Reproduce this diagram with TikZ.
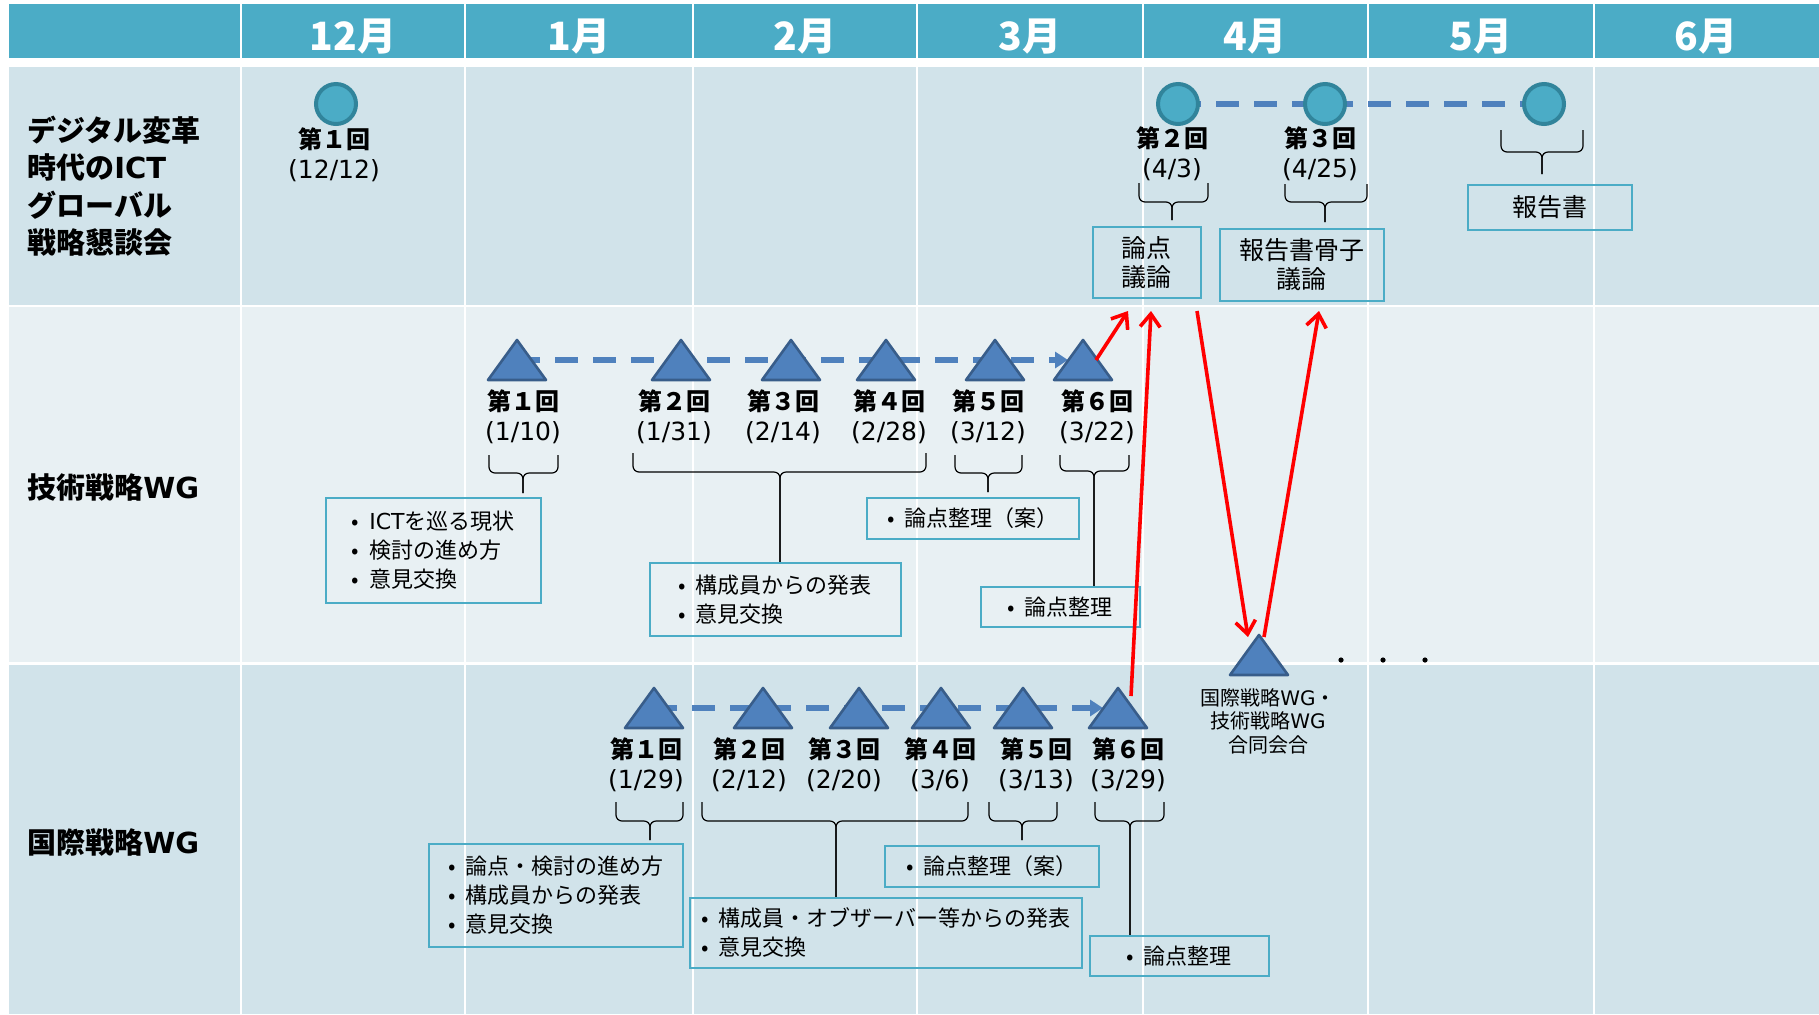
\documentclass[tikz,border=0pt]{standalone}
\usepackage{fontspec}
\setmainfont{Noto Sans CJK JP}
\newfontfamily\datefont{DejaVu Sans}
\newfontfamily\latfont{DejaVu Sans}
\usetikzlibrary{arrows.meta,calc}
\definecolor{hdr}{HTML}{4BACC6}
\definecolor{rowA}{HTML}{D1E3EA}
\definecolor{rowB}{HTML}{E8F0F3}
\definecolor{circB}{HTML}{31849B}
\definecolor{triF}{HTML}{4F81BD}
\definecolor{triB}{HTML}{385D8A}
\definecolor{dashc}{HTML}{4F81BD}
\newcommand\mktri[3]{\coordinate (#1) at (#2,#3);
  \draw[trishape] (#2,#3-20) -- (#2+29,#3+20) -- (#2-29,#3+20) -- cycle;}
\newcommand\brc[6]{\draw[brk] (#1,#3) -- (#1,#4) -- (#5,#4) -- (#5,#6);
  \draw[brk] (#2,#3) -- (#2,#4) -- (#5,#4) -- (#5,#6);}
\newcommand\dt[1]{{\datefont\fontsize{12.5}{15}\selectfont #1}}
\newcommand\lat[1]{{\latfont #1}}
\newcommand\bl{•\hspace{0.45em}}
\begin{document}
\begin{tikzpicture}[x=0.5pt,y=-0.5pt,
  month/.style={font=\fontsize{19.5}{21}\selectfont\bfseries, text=white, inner sep=0},
  rowlabel/.style={font=\fontsize{14.5}{18.7}\selectfont\bfseries, align=left, anchor=west, inner sep=0},
  evlabel/.style={font=\fontsize{12}{15}\selectfont, align=center, inner sep=0},
  meet/.style={circle, draw=circB, fill=hdr, line width=2pt, minimum size=20pt, inner sep=0},
  trishape/.style={draw=triB, fill=triF, line width=1.3pt, line join=round},
  seq/.style={draw=dashc, line width=3.4pt, dash pattern=on 11.5pt off 7.5pt},
  seqarr/.style={seq, -{Triangle[length=6.5pt,width=8pt]}},
  brk/.style={draw=black, line width=0.6pt, rounded corners=3pt},
  box/.style={draw=hdr, line width=0.8pt, align=left, inner xsep=3pt, inner ysep=0pt, font=\fontsize{11}{14.5}\selectfont, anchor=north west},
  cbox/.style={box, align=center, font=\fontsize{12.5}{14.5}\selectfont},
  redarr/.style={draw=red, line width=1.8pt, -{Straight Barb[length=6.5pt,width=10pt]}},
  joint/.style={font=\fontsize{10}{11.8}\selectfont, align=center, inner sep=0},
  dotn/.style={circle, fill=black, minimum size=2.6pt, inner sep=0}
]
\useasboundingbox (0,0) rectangle (1819,1014);
% background
\fill[white] (0,0) rectangle (1819,1014);
\fill[hdr] (9,4) rectangle (1819,58);
\fill[rowA] (9,67) rectangle (1819,305);
\fill[rowB] (9,307) rectangle (1819,662);
\fill[rowA] (9,665) rectangle (1819,1014);
\foreach \x in {241,465,693,917,1143,1368,1594} \draw[white, line width=1pt] (\x,4) -- (\x,1014);
% months
\node[month] (m12) at (353,37) {12月};
\node[month] (m1) at (579,37) {1月};
\node[month] (m2) at (805,37) {2月};
\node[month] (m3) at (1030,37) {3月};
\node[month] (m4) at (1255,37) {4月};
\node[month] (m5) at (1481,37) {5月};
\node[month] (m6) at (1706,37) {6月};
% row labels
\node[rowlabel] (L1) at (27,186) {デジタル変革\\時代の\lat{ICT}\\グローバル\\戦略懇談会};
\node[rowlabel] (L2) at (27,487) {技術戦略\lat{WG}};
\node[rowlabel] (L3) at (27,842) {国際戦略\lat{WG}};
% row 1
\node[meet] (C1) at (336,104) {};
\draw[seq] (1178,104) coordinate (c2p) -- (1544,104) coordinate (c4p);
\node[meet] (C2) at (c2p) {};
\node[meet] (C3) at (1325,104) {};
\node[meet] (C4) at (c4p) {};
\node[evlabel] (k1) at (334,155) {\textbf{第１回}\\\dt{(12/12)}};
\node[evlabel] (k2) at (1172,154) {\textbf{第２回}\\\dt{(4/3)}};
\node[evlabel] (k3) at (1320,154) {\textbf{第３回}\\\dt{(4/25)}};
\brc{1139}{1208}{183}{202}{1172}{220}
\brc{1285}{1367}{184}{202}{1325}{222}
\brc{1501}{1583}{130}{152}{1542}{174}
\node[cbox, minimum width=54pt, minimum height=35.5pt] (B1) at (1092,226) {論点\\議論};
\node[cbox, minimum width=82pt, minimum height=36pt] (B2) at (1219,228) {報告書骨子\\議論};
\node[cbox, minimum width=82pt, minimum height=22.5pt] (B3) at (1467,184) {報告書};
% row 2
\coordinate (T1) at (517,360);
\coordinate (T6) at (1083,360);
\draw[seqarr] (T1) -- ($(T6)+(-15,0)$);
\mktri{T1}{517}{360}
\mktri{T2}{681}{360}
\mktri{T3}{791}{360}
\mktri{T4}{886}{360}
\mktri{T5}{995}{360}
\mktri{T6}{1083}{360}
\node[evlabel] (a1) at (523,417) {\textbf{第１回}\\\dt{(1/10)}};
\node[evlabel] (a2) at (674,417) {\textbf{第２回}\\\dt{(1/31)}};
\node[evlabel] (a3) at (783,417) {\textbf{第３回}\\\dt{(2/14)}};
\node[evlabel] (a4) at (889,417) {\textbf{第４回}\\\dt{(2/28)}};
\node[evlabel] (a5) at (988,417) {\textbf{第５回}\\\dt{(3/12)}};
\node[evlabel] (a6) at (1097,417) {\textbf{第６回}\\\dt{(3/22)}};
\brc{489}{558}{455}{473}{523}{493}
\brc{633}{926}{453}{472}{780}{562}
\brc{955}{1022}{455}{473}{988}{492}
\brc{1060}{1129}{455}{471}{1094}{586}
\node[box, minimum width=107.5pt, minimum height=52.5pt] (B4) at (325,497) {\bl\lat{ICT}を巡る現状\\\bl 検討の進め方\\\bl 意見交換};
\node[box, minimum width=125.5pt, minimum height=36.5pt] (B5) at (649,562) {\bl 構成員からの発表\\\bl 意見交換};
\node[box, minimum width=106pt, minimum height=20.5pt] (B6) at (866,497) {\bl 論点整理（案）};
\node[box, minimum width=79.5pt, minimum height=20pt] (B7) at (980,586) {\bl 論点整理};
% row 3
\coordinate (U1) at (654,708);
\coordinate (U6) at (1118,708);
\draw[seqarr] (U1) -- ($(U6)+(-15,0)$);
\mktri{U1}{654}{708}
\mktri{U2}{763}{708}
\mktri{U3}{859}{708}
\mktri{U4}{941}{708}
\mktri{U5}{1023}{708}
\mktri{U6}{1118}{708}
\node[evlabel] (b1) at (646,765) {\textbf{第１回}\\\dt{(1/29)}};
\node[evlabel] (b2) at (749,765) {\textbf{第２回}\\\dt{(2/12)}};
\node[evlabel] (b3) at (844,765) {\textbf{第３回}\\\dt{(2/20)}};
\node[evlabel] (b4) at (940,765) {\textbf{第４回}\\\dt{(3/6)}};
\node[evlabel] (b5) at (1036,765) {\textbf{第５回}\\\dt{(3/13)}};
\node[evlabel] (b6) at (1128,765) {\textbf{第６回}\\\dt{(3/29)}};
\brc{616}{683}{802}{821}{650}{840}
\brc{702}{968}{802}{821}{836}{897}
\brc{989}{1057}{802}{821}{1022}{840}
\brc{1095}{1164}{802}{821}{1130}{935}
\node[box, minimum width=127pt, minimum height=51.5pt] (B8) at (428,843) {\bl 論点・検討の進め方\\\bl 構成員からの発表\\\bl 意見交換};
\node[box, minimum width=196pt, minimum height=35pt] (B9) at (689,897) {\bl 構成員・オブザーバー等からの発表\\\bl 意見交換};
\node[box, minimum width=107pt, minimum height=20.5pt] (B10) at (884,845) {\bl 論点整理（案）};
\node[box, minimum width=89.5pt, minimum height=20pt] (B11) at (1089,935) {\bl 論点整理};
% joint meeting
\mktri{J}{1259}{655}
\node[joint] (jl) at (1268,721) {国際戦略\lat{WG}・\\技術戦略\lat{WG}\\合同会合};
\node[dotn] (d1) at (1341,660) {};
\node[dotn] (d2) at (1383,660) {};
\node[dotn] (d3) at (1425,660) {};
% red arrows
\coordinate (r1e) at (1128,311);
\coordinate (r2e) at (1151,311);
\coordinate (r3s) at (1197,311);
\coordinate (r4e) at (1319,311);
\draw[redarr] ($(T6)+(13,0)$) -- (r1e);
\draw[redarr] ($(U6)+(13,-12)$) -- (r2e);
\draw[redarr] (r3s) -- ($(J)+(-11,-18)$);
\draw[redarr] ($(J)+(5,-18)$) -- (r4e);
\end{tikzpicture}
\end{document}
